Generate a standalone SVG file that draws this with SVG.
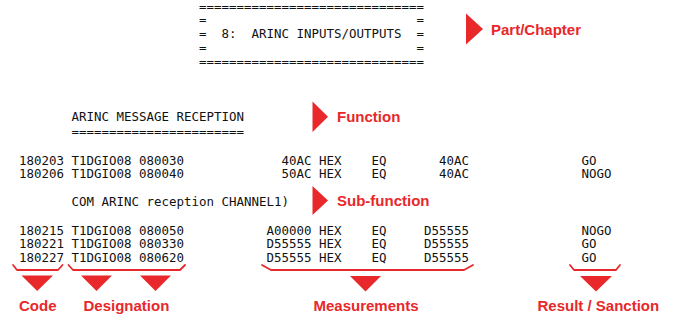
<svg xmlns="http://www.w3.org/2000/svg" width="684" height="320" viewBox="0 0 684 320">
<style>
.m{font-family:"DejaVu Sans Mono","Liberation Mono",monospace;font-size:12.46px;fill:#111;white-space:pre}
.l{font-family:"Liberation Sans",Arial,sans-serif;font-weight:bold;font-size:15px;fill:#e8282a}
.tri{fill:#e8282a}
.br{fill:none;stroke:#e8282a;stroke-width:1.8;stroke-linejoin:round;stroke-linecap:round}
</style>
<rect width="684" height="320" fill="#fff"/>
<g id="chapter-banner">
<text class="m" xml:space="preserve" x="199" y="10.5">==============================</text>
<text class="m" xml:space="preserve" x="199" y="24.2">=                            =</text>
<text class="m" xml:space="preserve" x="199" y="38">=  8:  ARINC INPUTS/OUTPUTS  =</text>
<text class="m" xml:space="preserve" x="199" y="51.7">=                            =</text>
<text class="m" xml:space="preserve" x="199" y="65.5">==============================</text>
</g>
<g id="label-part-chapter">
<polygon class="tri" points="466,13.5 483,29 466,44.5"/>
<text class="l" x="491" y="34.5">Part/Chapter</text>
</g>
<g id="function-title">
<text class="m" xml:space="preserve" x="71.5" y="121.2">ARINC MESSAGE RECEPTION</text>
<text class="m" xml:space="preserve" x="71.5" y="136">=======================</text>
</g>
<g id="label-function">
<polygon class="tri" points="312.5,101.5 328,116.7 312.5,132"/>
<text class="l" x="337" y="122.3">Function</text>
</g>
<g id="rows-function">
<text class="m" y="164.5"><tspan x="19">180203 T1DGIO08 080030</tspan><tspan x="281.5">40AC</tspan><tspan x="319">HEX</tspan><tspan x="371.5">EQ</tspan><tspan x="439">40AC</tspan><tspan x="581.5">GO</tspan></text>
<text class="m" y="178.2"><tspan x="19">180206 T1DGIO08 080040</tspan><tspan x="281.5">50AC</tspan><tspan x="319">HEX</tspan><tspan x="371.5">EQ</tspan><tspan x="439">40AC</tspan><tspan x="581.5">NOGO</tspan></text>
</g>
<g id="subfunction-title">
<text class="m" xml:space="preserve" x="71.5" y="206">COM ARINC reception CHANNEL1)</text>
</g>
<g id="label-subfunction">
<polygon class="tri" points="312.5,186 328,200.5 312.5,215"/>
<text class="l" x="337" y="206">Sub-function</text>
</g>
<g id="rows-subfunction">
<text class="m" y="234.5"><tspan x="19">180215 T1DGIO08 080050</tspan><tspan x="266.5">A00000</tspan><tspan x="319">HEX</tspan><tspan x="371.5">EQ</tspan><tspan x="424">D55555</tspan><tspan x="581.5">NOGO</tspan></text>
<text class="m" y="248.2"><tspan x="19">180221 T1DGIO08 080330</tspan><tspan x="266.5">D55555</tspan><tspan x="319">HEX</tspan><tspan x="371.5">EQ</tspan><tspan x="424">D55555</tspan><tspan x="581.5">GO</tspan></text>
<text class="m" y="262"><tspan x="19">180227 T1DGIO08 080620</tspan><tspan x="266.5">D55555</tspan><tspan x="319">HEX</tspan><tspan x="371.5">EQ</tspan><tspan x="424">D55555</tspan><tspan x="581.5">GO</tspan></text>
</g>
<g id="connectors">
<path class="br" d="M13,265 L17,270 H58 L62.5,265"/>
<path class="br" d="M68.5,265 L73,270 H180 L185,265"/>
<path class="br" d="M262,265 L271,270 H464 L473,265"/>
<path class="br" d="M570,265 L574,270 H616 L620,265"/>
<polygon class="tri" points="21.5,275.5 53,275.5 37.2,291"/>
<polygon class="tri" points="81,275.5 112,275.5 96.5,291"/>
<polygon class="tri" points="140,275.5 171,275.5 155.5,291"/>
<polygon class="tri" points="350,276 381,276 365.5,291.5"/>
<polygon class="tri" points="580,276 612,276 596,291.5"/>
</g>
<g id="label-code"><text class="l" x="19" y="310.5">Code</text></g>
<g id="label-designation"><text class="l" x="83.5" y="310.5">Designation</text></g>
<g id="label-measurements"><text class="l" x="313.5" y="310.5">Measurements</text></g>
<g id="label-result"><text class="l" x="537.5" y="310.5">Result / Sanction</text></g>
</svg>
